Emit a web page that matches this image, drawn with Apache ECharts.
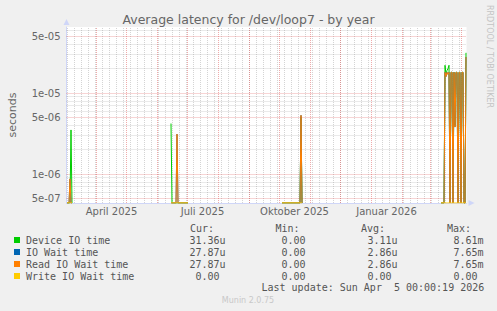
<!DOCTYPE html>
<html><head><meta charset="utf-8">
<script src="https://cdn.jsdelivr.net/npm/echarts@6/dist/echarts.min.js"></script>
<style>html,body{margin:0;padding:0;background:#f0f0f0;}#c{width:497px;height:311px;}</style>
</head><body><div id="c"></div>
<script>
// ---------------- data ----------------
const chartTitle = 'Average latency for /dev/loop7 - by year';
const yAxisName = 'seconds';
const seriesNames = ['Device IO time', 'IO Wait time', 'Read IO Wait time', 'Write IO Wait time'];
const seriesColors = ['#00cc00', '#0066b3', '#ff8000', '#ffcc00'];

// days with data: each block starts at periodStarts[p] and runs one value per day
const periodStarts = ['2025-03-02', '2025-06-14', '2025-10-03', '2026-03-11'];
const deviceIO = [
  [0, 0, 0, 0, 3.5e-6, 0],
  [4.2e-6, 0, 0, 0, 0, 0, 0, 0, 0, 0, 0, 0, 0, 0, 0, 0, 0, 0],
  [0, 0, 0, 0, 0, 0, 0, 0, 0, 0, 0, 0, 0, 0, 0, 0, 0, 0, 0, 5.0e-6, 0],
  [0, 0, 0, 0, 2.2e-5, 1.7e-5, 1.9e-5, 2.0e-5, 2.2e-5, 0, 1.8e-5, 1.8e-5, 0, 1.8e-5, 4.0e-6, 1.8e-5, 1.8e-5, 0, 1.8e-5, 1.8e-5, 0, 1.8e-5, 1.8e-5, 0, 0, 3.136e-5]
];
const ioWait = [
  [0, 0, 0, 8.7e-7, 0, 0],
  [0, 0, 0, 0, 0, 0, 3.1e-6, 0, 0, 0, 0, 0, 0, 0, 0, 0, 0, 0],
  [0, 0, 0, 0, 0, 0, 0, 0, 0, 0, 0, 0, 0, 0, 0, 0, 0, 0, 0, 5.3e-6, 0],
  [0, 0, 0, 0, 1.8e-5, 1.6e-5, 1.8e-5, 1.7e-5, 1.8e-5, 0, 1.8e-5, 1.8e-5, 0, 1.8e-5, 3.8e-6, 1.8e-5, 1.8e-5, 0, 1.8e-5, 1.8e-5, 0, 1.8e-5, 1.8e-5, 0, 0, 2.787e-5]
];
const readIOWait = [
  [0, 0, 0, 8.7e-7, 0, 0],
  [0, 0, 0, 0, 0, 0, 3.1e-6, 0, 0, 0, 0, 0, 0, 0, 0, 0, 0, 0],
  [0, 0, 0, 0, 0, 0, 0, 0, 0, 0, 0, 0, 0, 0, 0, 0, 0, 0, 0, 5.3e-6, 0],
  [0, 0, 0, 0, 1.8e-5, 1.6e-5, 1.8e-5, 1.7e-5, 1.8e-5, 0, 1.8e-5, 1.8e-5, 0, 1.8e-5, 3.8e-6, 1.8e-5, 1.8e-5, 0, 1.8e-5, 1.8e-5, 0, 1.8e-5, 1.8e-5, 0, 0, 2.787e-5]
];
const writeIOWait = [
  [0, 0, 0, 0, 0, 0],
  [0, 0, 0, 0, 0, 0, 0, 0, 0, 0, 0, 0, 0, 0, 0, 0, 0, 0],
  [0, 0, 0, 0, 0, 0, 0, 0, 0, 0, 0, 0, 0, 0, 0, 0, 0, 0, 0, 0, 0],
  [0, 0, 0, 0, 0, 0, 0, 0, 0, 0, 0, 0, 0, 0, 0, 0, 0, 0, 0, 0, 0, 0, 0, 0, 0, 0]
];
const seriesValues = [deviceIO, ioWait, readIOWait, writeIOWait];

// axes
const X_MIN = '2025-03-02', X_MAX = '2026-04-06';
const Y_MIN = 4.385e-7, Y_MAX = 6.535e-5;
const xLabelDates = ['2025-04-16', '2025-07-16', '2025-10-16', '2026-01-16'];
const xLabelTexts = ['April 2025', 'Juli 2025', 'Oktober 2025', 'Januar 2026'];
const yMajorTicks = [5e-7, 1e-6, 5e-6, 1e-5, 5e-5];
const yMajorLabels = ['5e-07', '1e-06', '5e-06', '1e-05', '5e-05'];
const yMinorTicks = [6e-7, 7e-7, 8e-7, 9e-7, 2e-6, 3e-6, 4e-6, 6e-6, 7e-6, 8e-6, 9e-6, 2e-5, 3e-5, 4e-5, 6e-5];
const monthStarts = ['2025-04-01', '2025-05-01', '2025-06-01', '2025-07-01', '2025-08-01', '2025-09-01', '2025-10-01',
  '2025-11-01', '2025-12-01', '2026-01-01', '2026-02-01', '2026-03-01', '2026-04-01'];
const firstMonday = '2025-03-03';

// legend table
const legendHeaders = ['Cur:', 'Min:', 'Avg:', 'Max:'];
const curVals = ['31.36u', '27.87u', '27.87u', '0.00'];
const minVals = ['0.00', '0.00', '0.00', '0.00'];
const avgVals = ['3.11u', '2.86u', '2.86u', '0.00'];
const maxVals = ['8.61m', '7.65m', '7.65m', '0.00'];
const lastUpdate = 'Last update: Sun Apr  5 00:00:19 2026';
const footer = 'Munin 2.0.75';
const sideText = 'RRDTOOL / TOBI OETIKER';

// ---------------- build ----------------
function ts(str, addDays, hour) {
  const p = str.split('-').map(Number);
  return new Date(p[0], p[1] - 1, p[2] + (addDays || 0), hour || 0).getTime();
}
function build(values) {
  const out = [];
  periodStarts.forEach((s, p) => {
    if (p > 0) out.push([ts(s, -1, 12), null]);
    values[p].forEach((v, i) => out.push([ts(s, i, 12), v === 0 ? Y_MIN : v]));
  });
  return out;
}
const GRAY = 'rgba(143,143,143,0.38)';
const RED = 'rgba(222,79,79,0.48)';
const AXIS = '#CFD6F8';
const TXT = '#666';
const MONO = '"DejaVu Sans Mono", monospace';
const SANS = '"DejaVu Sans", sans-serif';

const xMinTs = ts(X_MIN), xMaxTs = ts(X_MAX);
const gridLines = [];
function hLine(v, color, label) {
  const a = { coord: [xMinTs, v], lineStyle: { color } };
  if (label) a.label = label;
  gridLines.push([a, { coord: [xMaxTs, v] }]);
}
for (let d = 0; ts(firstMonday, d) < xMaxTs; d += 7) {
  gridLines.push({ xAxis: ts(firstMonday, d), lineStyle: { color: GRAY } });
}
yMinorTicks.forEach(v => hLine(v, GRAY));
monthStarts.forEach(m => gridLines.push({ xAxis: ts(m), lineStyle: { color: RED } }));
yMajorTicks.forEach((v, i) => hLine(v, RED,
  { show: true, position: 'start', distance: 6, formatter: yMajorLabels[i], color: TXT, fontSize: 10, fontFamily: SANS }));
xLabelDates.forEach((d, i) => gridLines.push({
  xAxis: ts(d), lineStyle: { color: 'rgba(0,0,0,0)' },
  label: { show: true, position: 'start', distance: 3, formatter: xLabelTexts[i], color: TXT, fontSize: 10, fontFamily: SANS }
}));

const series = seriesNames.map((name, i) => ({
  name, type: 'line', data: build(seriesValues[i]),
  showSymbol: false, symbol: 'none', connectNulls: false,
  lineStyle: { width: 1, color: seriesColors[i] }, itemStyle: { color: seriesColors[i] },
  animation: false, silent: true, z: 2 + i
}));
series.unshift({
  name: 'grid', type: 'line', data: [], clip: false, silent: true, animation: false, z: 1,
  markLine: {
    z: 1, silent: true, animation: false, symbol: ['none', 'none'],
    label: { show: false },
    lineStyle: { type: [1, 1], width: 1 },
    emphasis: { disabled: true },
    data: gridLines
  }
});

const graphics = [];
function txt(x, y, text, opts) {
  const o = Object.assign({ align: 'left', vAlign: 'middle', font: '10px ' + MONO, fill: '#555', rotation: 0 }, opts || {});
  graphics.push({
    type: 'text', x, y, rotation: o.rotation, silent: true,
    style: { text, font: o.font, fill: o.fill, align: o.align, verticalAlign: o.vAlign, textAlign: o.align, textVerticalAlign: o.vAlign }
  });
}
txt(248.5, 19, chartTitle, { align: 'center', font: '12.5px ' + SANS, fill: TXT });
txt(12, 115, yAxisName, { align: 'center', font: '11px ' + SANS, fill: TXT, rotation: Math.PI / 2 });
txt(489, 5, sideText, { align: 'left', font: '8px ' + SANS, fill: '#c4c4c4', rotation: -Math.PI / 2 });

const headerX = [190, 275.5, 361, 447];
legendHeaders.forEach((h, i) => txt(headerX[i], 228.5, h));
const colRight = [225.5, 311.5, 397.5, 483.5];
const cols = [curVals, minVals, avgVals, maxVals];
seriesNames.forEach((n, r) => {
  const y = 240 + r * 12;
  graphics.push({ type: 'rect', silent: true, shape: { x: 14, y: y - 3, width: 6, height: 6 }, style: { fill: seriesColors[r] } });
  txt(26, y, n);
  cols.forEach((col, c) => {
    const s = col[r];
    const hasUnit = /[a-zA-Z]$/.test(s);
    txt(colRight[c] - (hasUnit ? 0 : 6), y, s, { align: 'right' });
  });
});
txt(261.5, 287.5, lastUpdate);
txt(248, 300, footer, { align: 'center', font: '8px ' + SANS, fill: '#c8c8c8' });

const option = {
  backgroundColor: '#f0f0f0',
  animation: false,
  grid: { left: 66.5, top: 27, width: 400, height: 176, show: true, backgroundColor: '#ffffff', borderWidth: 0, containLabel: false },
  xAxis: {
    type: 'time', min: xMinTs, max: xMaxTs,
    axisLine: { show: true, lineStyle: { color: AXIS, width: 1 }, symbol: ['none', 'triangle'], symbolSize: [6, 6], symbolOffset: [0, 5] },
    axisTick: { show: false }, splitLine: { show: false }, axisLabel: { show: false }
  },
  yAxis: {
    type: 'log', logBase: 10, min: Y_MIN, max: Y_MAX,
    axisLine: { show: true, lineStyle: { color: AXIS, width: 1 }, symbol: ['none', 'triangle'], symbolSize: [6, 6], symbolOffset: [0, 5] },
    axisTick: { show: false }, axisLabel: { show: false }, splitLine: { show: false }, minorSplitLine: { show: false }
  },
  graphic: graphics,
  series: series
};
const chart = echarts.init(document.getElementById('c'), null, { renderer: 'svg', width: 497, height: 311 });
chart.setOption(option);
</script></body></html>
